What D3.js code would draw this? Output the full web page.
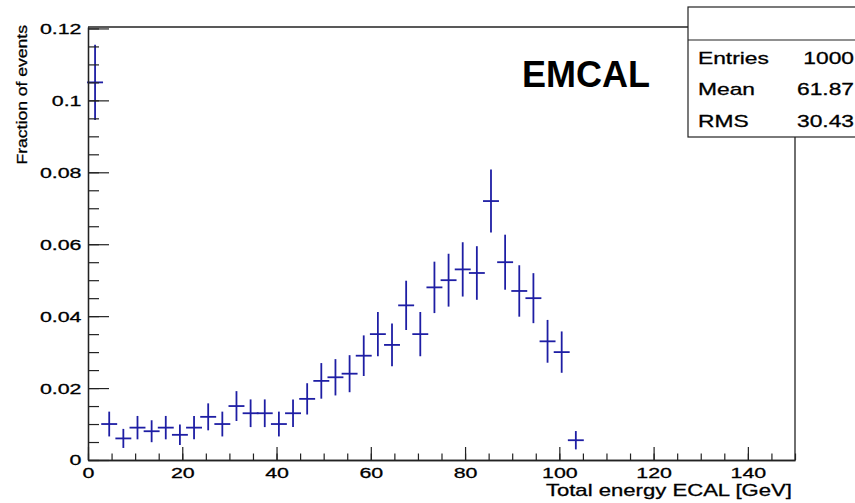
<!DOCTYPE html>
<html>
<head>
<meta charset="utf-8">
<script src="https://cdn.jsdelivr.net/npm/d3@7"></script>
<style>
  html, body { margin: 0; padding: 0; background: #fff; }
  svg { display: block; }
  text { font-family: "Liberation Sans", Arial, Helvetica, sans-serif; fill: #000; }
  text.heavy { stroke: #000; stroke-width: 0.3px; }
</style>
</head>
<body>
<svg id="chart" width="855" height="503"></svg>
<script>
// ---- data ----
const binEdges = [0,3,6,9,12,15,18,21,24,27,30,33,36,39,42,45,48,51,54,57,60,63,66,69,72,75,78,81,84,87,90,93,96,99,102,105];
const fractions = [0.105,0.010,0.006,0.009,0.008,0.009,0.007,0.009,0.012,0.010,0.015,0.013,0.013,0.010,0.013,0.017,0.022,0.023,0.024,0.029,0.035,0.032,0.043,0.035,0.048,0.050,0.053,0.052,0.072,0.055,0.047,0.045,0.033,0.030,0.0055];
const errors = [0.0102,0.0032,0.0024,0.0030,0.0028,0.0030,0.0026,0.0030,0.0035,0.0032,0.0039,0.0036,0.0036,0.0032,0.0036,0.0041,0.0047,0.0048,0.0049,0.0054,0.0059,0.0057,0.0066,0.0059,0.0069,0.0071,0.0073,0.0072,0.0085,0.0074,0.0069,0.0067,0.0057,0.0055,0.0023];
const xMajorTicks = [0,20,40,60,80,100,120,140];
const xMinorTicks = [0,5,10,15,20,25,30,35,40,45,50,55,60,65,70,75,80,85,90,95,100,105,110,115,120,125,130,135,140,145,150];
const yMajorTicks = [0,0.02,0.04,0.06,0.08,0.1,0.12];
const yMinorTicks = [0,0.005,0.01,0.015,0.02,0.025,0.03,0.035,0.04,0.045,0.05,0.055,0.06,0.065,0.07,0.075,0.08,0.085,0.09,0.095,0.1,0.105,0.11,0.115,0.12];
const xTitle = "Total energy ECAL [GeV]";
const yTitle = "Fraction of events";
const label = "EMCAL";
const statNames = ["Entries","Mean","RMS"];
const statValues = ["1000","61.87","30.43"];

// ---- layout ----
const svg = d3.select("#chart");
const x = d3.scaleLinear().domain([0,150]).range([88,795]);
const y = d3.scaleLinear().domain([0,0.1204]).range([460,27]);
const dataColor = "#1e1ea4";
const axisColor = "#222";

function stretch(sel, k) {
  sel.each(function() {
    const L = this.getComputedTextLength();
    this.setAttribute("textLength", L * k);
    this.setAttribute("lengthAdjust", "spacingAndGlyphs");
  });
}

// ---- data points (error crosses) ----
const pts = fractions.map((v,i) => ({lo: binEdges[i], hi: binEdges[i+1], v, e: errors[i]}));
const g = svg.append("g").attr("stroke", dataColor).attr("stroke-width", 1.8).attr("stroke-linecap", "square");
g.selectAll("line.h").data(pts).join("line").attr("class","h")
  .attr("x1", d => x(d.lo)).attr("x2", d => x(d.hi))
  .attr("y1", d => y(d.v)).attr("y2", d => y(d.v));
g.selectAll("line.v").data(pts).join("line").attr("class","v")
  .attr("x1", d => x((d.lo+d.hi)/2)).attr("x2", d => x((d.lo+d.hi)/2))
  .attr("y1", d => y(d.v - d.e)).attr("y2", d => y(d.v + d.e));

// ---- frame ----
svg.append("line").attr("x1", x(0)).attr("x2", x(150)).attr("y1", y.range()[1]).attr("y2", y.range()[1])
  .attr("stroke", axisColor).attr("stroke-width", 1.3);
svg.append("line").attr("x1", x(150)).attr("x2", x(150)).attr("y1", y.range()[1]).attr("y2", y(0))
  .attr("stroke", axisColor).attr("stroke-width", 1.3);

// ---- axes ----
const xMinor = svg.append("g").attr("transform", `translate(0,${y(0)})`)
  .call(d3.axisBottom(x).tickValues(xMinorTicks).tickSize(-6.5).tickSizeOuter(0).tickFormat(""));
const xMajor = svg.append("g").attr("transform", `translate(0,${y(0)})`)
  .call(d3.axisBottom(x).tickValues(xMajorTicks).tickSize(-13).tickSizeOuter(0).tickPadding(7).tickFormat(d3.format("d")));
const yMinor = svg.append("g").attr("transform", `translate(${x(0)},0)`)
  .call(d3.axisLeft(y).tickValues(yMinorTicks).tickSize(-11).tickSizeOuter(0).tickFormat(""));
const yMajor = svg.append("g").attr("transform", `translate(${x(0)},0)`)
  .call(d3.axisLeft(y).tickValues(yMajorTicks).tickSize(-21).tickSizeOuter(0).tickPadding(6.5).tickFormat(d => d === 0 ? "0" : String(+d.toFixed(3))));

[xMinor, xMajor, yMinor, yMajor].forEach(a => {
  a.selectAll("path.domain").attr("stroke", axisColor).attr("stroke-width", 1.3);
  a.selectAll(".tick line").attr("stroke", axisColor).attr("stroke-width", 1.2);
});
[xMajor, yMajor].forEach(a => {
  a.selectAll("text").attr("font-size", 15.5).attr("fill", "#000").attr("class", "heavy")
    .style("font-family", '"Liberation Sans", Arial, sans-serif');
  stretch(a.selectAll("text"), 1.38);
});

// ---- axis titles ----
const xt = svg.append("text").attr("class", "heavy").attr("x", x(150) - 3).attr("y", 496)
  .attr("text-anchor", "end").attr("font-size", 17).text(xTitle);
stretch(xt, 1.30);
const yt = svg.append("text").attr("class", "heavy").attr("transform", "translate(27,25) rotate(-90)")
  .attr("text-anchor", "end").attr("font-size", 15).text(yTitle);
stretch(yt, 1.17);

// ---- label ----
svg.append("text").attr("x", 522).attr("y", 87).attr("font-size", 36)
  .attr("font-weight", "bold").text(label);

// ---- stats box ----
const sb = svg.append("g");
sb.append("rect").attr("x", 688).attr("y", 7).attr("width", 220).attr("height", 130)
  .attr("fill", "#fff").attr("stroke", axisColor).attr("stroke-width", 1.2);
sb.append("line").attr("x1", 688).attr("x2", 900).attr("y1", 40).attr("y2", 40)
  .attr("stroke", axisColor).attr("stroke-width", 1.2);
const rowY = [63.5, 95, 126.5];
const sn = sb.selectAll("text.n").data(statNames).join("text").attr("class","n heavy")
  .attr("x", 698).attr("y", (d,i) => rowY[i]).attr("font-size", 17).text(d => d);
stretch(sn, 1.34);
const sv = sb.selectAll("text.v").data(statValues).join("text").attr("class","v heavy")
  .attr("x", 854).attr("y", (d,i) => rowY[i]).attr("text-anchor", "end").attr("font-size", 17).text(d => d);
stretch(sv, 1.34);
</script>
</body>
</html>
